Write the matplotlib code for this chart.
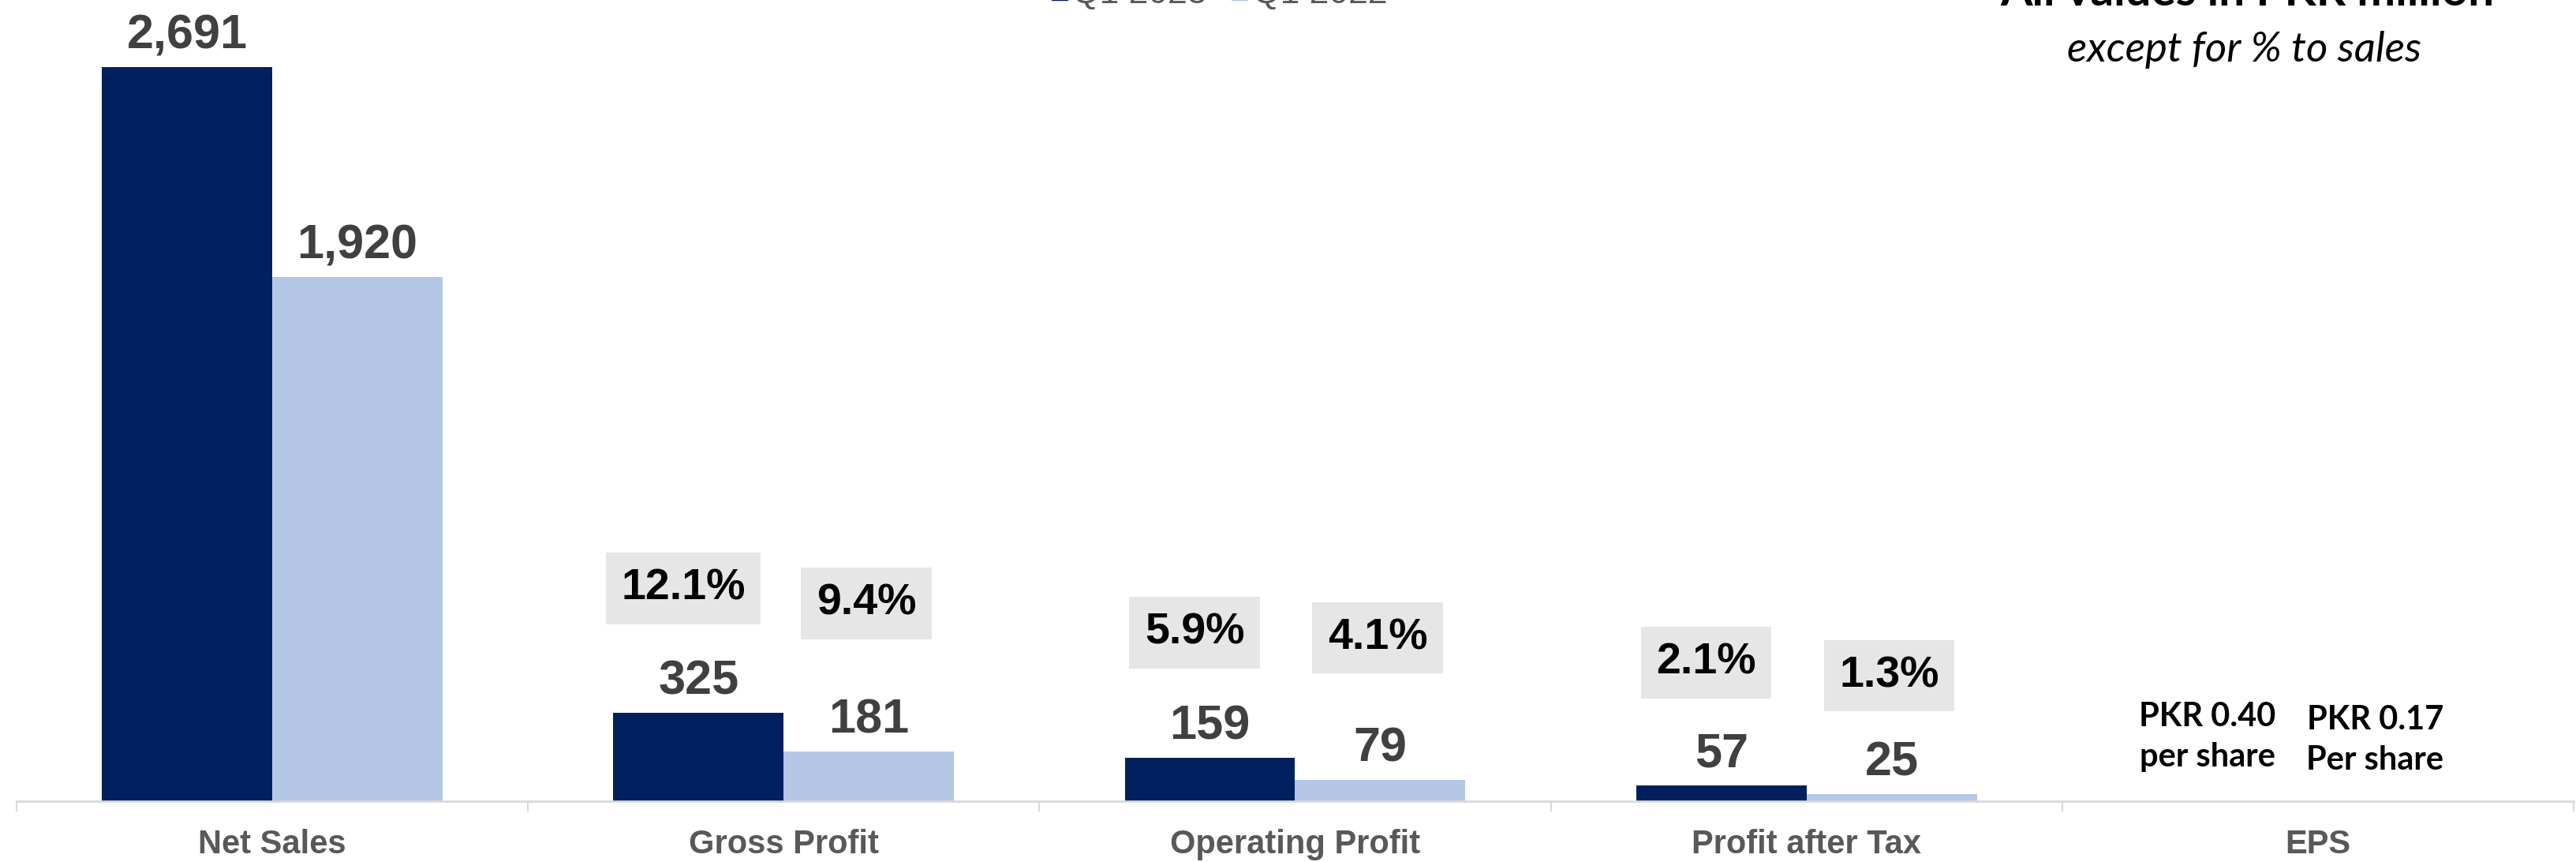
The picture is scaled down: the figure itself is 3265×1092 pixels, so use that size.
import numpy as np
import matplotlib
matplotlib.use("Agg")
import matplotlib.pyplot as plt
from matplotlib.patches import Patch

# data
categories = ["Net Sales", "Gross Profit", "Operating Profit", "Profit after Tax", "EPS"]
q1_2023 = [2691, 325, 159, 57]
q1_2022 = [1920, 181, 79, 25]
margin_2023 = [12.1, 5.9, 2.1]   # % to sales, Gross / Operating / PAT
margin_2022 = [9.4, 4.1, 1.3]
eps_2023 = 0.40
eps_2022 = 0.17
series_names = ["Q1 2023", "Q1 2022"]

# placement of the margin boxes (y centre, data units)
margin_y_2023 = [780, 619, 509]
margin_y_2022 = [726, 599, 460]

DARK = "#002060"
LIGHT = "#B4C7E7"
VALC = "#404040"
AXC = "#595959"
BOXC = "#E7E6E6"
ARIAL = "Liberation Sans"
CALIBRI = "Lato"

fig = plt.figure(figsize=(32.66, 10.92), dpi=100)
ax = fig.add_axes([0.0064, 0.0705, 0.9924, 0.9295])

w = 0.333
x = np.arange(len(q1_2023))
b1 = ax.bar(x - w/2, q1_2023, w, color=DARK)
b2 = ax.bar(x + w/2, q1_2022, w, color=LIGHT)

for bars in (b1, b2):
	for r in bars:
		v = r.get_height()
		ax.annotate(f"{v:,.0f}", (r.get_x() + r.get_width()/2, v), xytext=(0, 17),
			textcoords="offset points", ha="center", va="baseline",
			fontsize=44, fontweight="bold", color=VALC, family=ARIAL)

# % to sales boxes
for i in range(len(margin_2023)):
	c = i + 1
	ax.text(c - w/2 - 0.03, margin_y_2023[i], f"{margin_2023[i]:.1f}%", ha="center", va="center",
		fontsize=40, fontweight="bold", color="black", family=ARIAL,
		bbox=dict(boxstyle="square,pad=0.35", fc=BOXC, ec="none"))
	ax.text(c + w/2 - 0.005, margin_y_2022[i], f"{margin_2022[i]:.1f}%", ha="center", va="center",
		fontsize=40, fontweight="bold", color="black", family=ARIAL,
		bbox=dict(boxstyle="square,pad=0.35", fc=BOXC, ec="none"))

# EPS
ne = len(categories) - 1
ax.text(ne - w/2 - 0.05, 236, f"PKR {eps_2023:.2f}\nper share", ha="center", va="center",
	fontsize=30, fontweight="bold", color="black", family=CALIBRI, linespacing=1.42)
ax.text(ne + w/2 - 0.055, 225, f"PKR {eps_2022:.2f}\nPer share", ha="center", va="center",
	fontsize=30, fontweight="bold", color="black", family=CALIBRI, linespacing=1.42)

ax.set_xlim(-0.5, len(categories) - 0.5)
ax.set_ylim(0, 2937)
for s in ("top", "right", "left"):
	ax.spines[s].set_visible(False)
ax.spines["bottom"].set_color("#D9D9D9")
ax.spines["bottom"].set_linewidth(2)
ax.set_yticks([])
ax.set_xticks(range(len(categories)))
ax.set_xticklabels(categories, fontsize=30, fontweight="bold", color=AXC, family=ARIAL)
ax.tick_params(axis="x", which="major", length=0, pad=25)
ax.set_xticks(np.arange(-0.5, len(categories)), minor=True)
ax.tick_params(axis="x", which="minor", length=9.5, width=1.5, color="#D9D9D9")

# legend, mostly cut off at the top like the source
handles = [Patch(color=DARK), Patch(color=LIGHT)]
leg = fig.legend(handles, series_names, loc="center left", bbox_to_anchor=(0.408, 1.0 + 8/1092),
	frameon=False, ncol=2, fontsize=32, handlelength=0.45, handleheight=0.45,
	handletextpad=0.15, columnspacing=0.7, borderpad=0, borderaxespad=0)
for t in leg.get_texts():
	t.set_color(AXC)
	t.set_family(ARIAL)

fig.text(0.872, 1 - 7/1092, "All values in PKR million", ha="center", va="baseline",
	fontsize=42, fontweight="bold", color="black", family=CALIBRI)
fig.text(0.871, 1 - 78/1092, "except for % to sales", ha="center", va="baseline",
	fontsize=38, fontstyle="italic", color="black", family=CALIBRI)

fig.savefig("out.png", dpi=100)
